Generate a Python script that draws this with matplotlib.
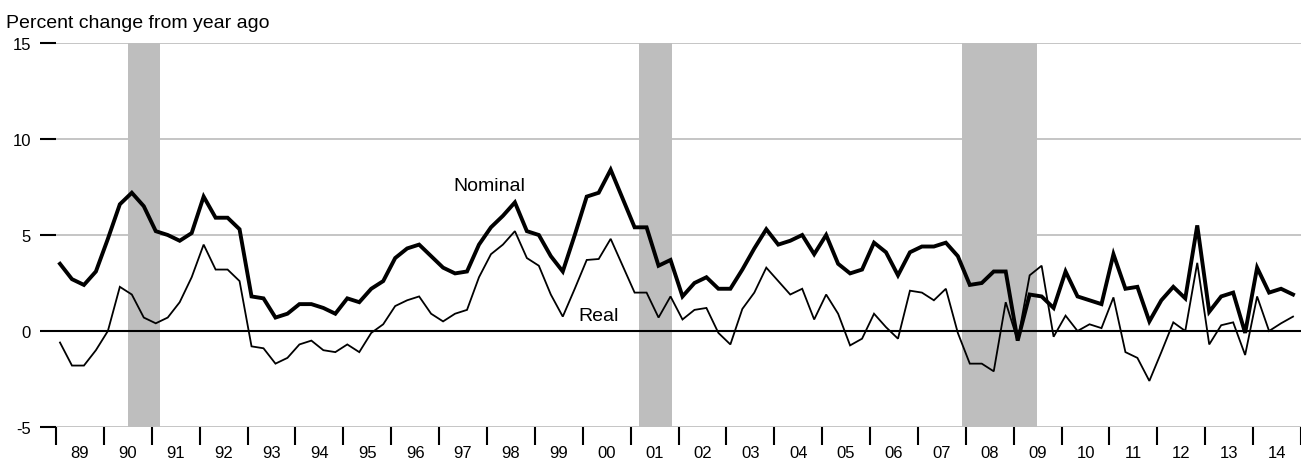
import numpy as np
import matplotlib
matplotlib.use("Agg")
import matplotlib.pyplot as plt

plt.rcParams['font.family'] = ['Liberation Sans', 'DejaVu Sans']

# Quarterly data, 1989 Q1 - 2014 Q4 (percent change from year ago)
first_year = 1989
years = list(range(1989, 2015))
year_labels = ["%02d" % (y % 100) for y in years]

nominal = [3.5, 2.7, 2.4, 3.1, 4.8, 6.6, 7.2, 6.5, 5.2, 5.0, 4.7, 5.1,
           7.0, 5.9, 5.9, 5.3, 1.8, 1.7, 0.7, 0.9, 1.4, 1.4, 1.2, 0.9,
           1.7, 1.5, 2.2, 2.6, 3.8, 4.3, 4.5, 3.9, 3.3, 3.0, 3.1, 4.5,
           5.4, 6.0, 6.7, 5.2, 5.0, 3.9, 3.1, 5.0, 7.0, 7.2, 8.4, 6.9,
           5.4, 5.4, 3.4, 3.7, 1.8, 2.5, 2.8, 2.2, 2.2, 3.2, 4.3, 5.3,
           4.5, 4.7, 5.0, 4.0, 5.0, 3.5, 3.0, 3.2, 4.6, 4.1, 2.9, 4.1,
           4.4, 4.4, 4.6, 3.9, 2.4, 2.5, 3.1, 3.1, -0.5, 1.9, 1.8, 1.2,
           3.1, 1.8, 1.6, 1.4, 4.0, 2.2, 2.3, 0.5, 1.6, 2.3, 1.7, 5.5,
           1.0, 1.8, 2.0, -0.1, 3.3, 2.0, 2.2, 1.9]

real = [-0.6, -1.8, -1.8, -1.0, 0.0, 2.3, 1.9, 0.7, 0.4, 0.7, 1.5, 2.8,
        4.5, 3.2, 3.2, 2.6, -0.8, -0.9, -1.7, -1.4, -0.7, -0.5, -1.0, -1.1,
        -0.7, -1.1, -0.1, 0.35, 1.3, 1.6, 1.8, 0.9, 0.5, 0.9, 1.1, 2.8,
        4.0, 4.5, 5.2, 3.8, 3.4, 1.9, 0.75, 2.2, 3.7, 3.75, 4.8, 3.4,
        2.0, 2.0, 0.7, 1.8, 0.6, 1.1, 1.2, -0.1, -0.7, 1.15, 2.0, 3.3,
        2.6, 1.9, 2.2, 0.6, 1.9, 0.9, -0.75, -0.4, 0.9, 0.2, -0.4, 2.1,
        2.0, 1.6, 2.2, -0.1, -1.7, -1.7, -2.1, 1.5, -0.5, 2.9, 3.4, -0.3,
        0.8, 0.0, 0.35, 0.15, 1.75, -1.1, -1.4, -2.6, -1.1, 0.45, 0.0, 3.55,
        -0.7, 0.3, 0.45, -1.25, 1.8, 0.0, 0.4, 0.75]

# Recessions (start, end) in fractional years
recessions = [(1990.5, 1991.17), (2001.17, 2001.87), (2007.92, 2009.49)]

# x position: middle month of each quarter
x = first_year + np.arange(len(nominal)) / 4.0 + 1.0 / 12

fig = plt.figure(figsize=(13.01, 4.64), dpi=100)
ax = fig.add_axes([56 / 1301, 36 / 464, 1 - 56 / 1301, 384 / 464])

# Grid lines (drawn first, recession bars sit on top of them)
for g in [15, 10, 5, -5]:
    ax.axhline(g, color="#c0c0c0", lw=1.3, zorder=1)

for start, end in recessions:
    ax.axvspan(start, end, color="#bebebe", lw=0, zorder=2)

ax.axhline(0, color="black", lw=1.5, zorder=3)

ax.plot(x, real, color="black", lw=1.3, zorder=4, solid_joinstyle="miter")
ax.plot(x, nominal, color="black", lw=2.8, zorder=5, solid_joinstyle="miter")

ax.text(1997.29, 7.6, "Nominal", fontsize=14, va="center", ha="left")
ax.text(1999.9, 0.83, "Real", fontsize=14, va="center", ha="left")

ax.set_xlim(first_year, first_year + (1301 - 56) / 48.0)
ax.set_ylim(-5, 15)

for s in ax.spines.values():
    s.set_visible(False)

ax.set_yticks([-5, 0, 5, 10, 15])
ax.set_yticklabels(["-5", "0", "5", "10", "15"])
ax.tick_params(axis="y", direction="out", length=11.5, width=1.5,
               pad=6.5, labelsize=12)

# year boundary ticks, labels centred in each year
ax.set_xticks(years + [2015])
ax.set_xticklabels([])
ax.set_xticks([y + 0.5 for y in years], minor=True)
ax.set_xticklabels(year_labels, minor=True)
ax.tick_params(axis="x", which="major", direction="out", length=13,
               width=1.5)
ax.tick_params(axis="x", which="minor", length=0, pad=13, labelsize=12)

fig.text(6 / 1301, 1 - 28 / 464, "Percent change from year ago",
         fontsize=14, ha="left", va="baseline")

fig.savefig("out.png", dpi=100)
